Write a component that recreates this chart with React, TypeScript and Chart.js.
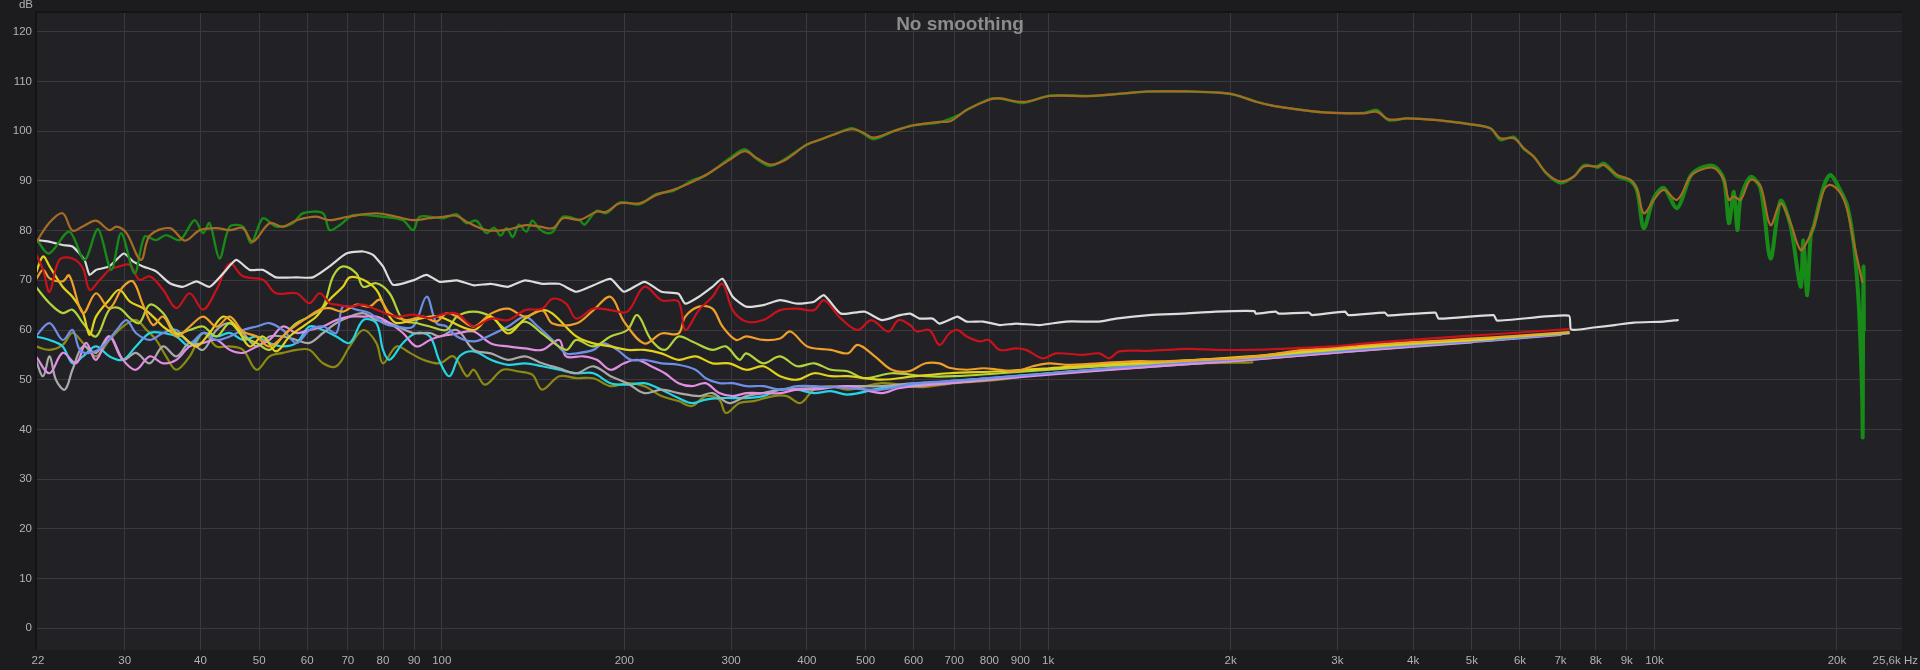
import React, { useEffect, useRef } from "react";
import { Chart, registerables } from "chart.js";

Chart.register(...registerables);

type P = [number, number];

const TITLE = "No smoothing";
const X_MIN = 21.5;
const X_MAX = 25600;
const Y_MIN = -4.4;
const Y_MAX = 123.8;
const X_TICKS = [30, 40, 50, 60, 70, 80, 90, 100, 200, 300, 400, 500, 600, 700, 800, 900, 1000, 2000, 3000, 4000, 5000, 6000, 7000, 8000, 9000, 10000, 20000];
const X_TICK_LABELS = ["30", "40", "50", "60", "70", "80", "90", "100", "200", "300", "400", "500", "600", "700", "800", "900", "1k", "2k", "3k", "4k", "5k", "6k", "7k", "8k", "9k", "10k", "20k"];
const X_EDGE_LABELS = ["22", "25,6k Hz"];
const Y_TICKS = [0, 10, 20, 30, 40, 50, 60, 70, 80, 90, 100, 110, 120];
const Y_UNIT = "dB";

const BROWN: P[] = [[21.4,77.5],[22.5,81.5],[23.7,83.5],[24.6,80],[25.7,81],[26.9,82],[28.3,80.1],[29.1,80.8],[30.2,79.5],[31.9,74.1],[33.0,79],[35.6,80.5],[37.7,78],[39.9,80.1],[42.5,80.5],[44.7,80.1],[47,80.5],[48.8,77.8],[52,81.5],[54.7,80.8],[57.6,82.1],[62.1,82.8],[65.3,82.1],[70,82.8],[78,83.5],[84.2,82.8],[89.7,82.1],[95.5,82.5],[100.5,82.8],[105.7,83],[109.8,81.8],[118.5,80.1],[127.9,80.2],[137.9,81.1],[145,80.8],[152.6,80.5],[158.6,82.5],[169,82.2],[180,83.8],[186.9,83.8],[196.7,85.5],[212,85.5],[226,87.2],[240.8,88.2],[259.8,89.9],[273.4,91.3],[298.7,94.3],[316,96],[330.6,94.6],[347.8,93.3],[365.8,94],[400,97.3],[420.6,98.3],[442.4,99.3],[474.5,100.4],[495.9,99.7],[515,98.7],[555.7,100],[600,101.2],[663,101.9],[689,102],[734,104.3],[802,106.4],[833,106.6],[910,105.9],[1008,107.1],[1173,107.1],[1331,107.6],[1455,108],[1715,108],[1898,107.8],[2022,107.4],[2210,105.9],[2353,105.1],[2507,104.6],[2847,103.8],[3313,103.6],[3486,103.9],[3643,102.4],[3907,102.6],[4324,102.3],[4786,101.7],[4909,101.5],[5362,100.6],[5570,98.6],[5861,98.6],[6086,96.6],[6321,94.9],[6651,91.5],[6999,89.9],[7364,90.9],[7648,92.9],[8047,92.9],[8253,93.2],[8677,91.2],[9129,90.2],[9364,88.2],[9603,83.5],[9975,86.2],[10361,88.2],[10899,86.2],[11465,90.9],[11910,92.2],[12530,92.6],[13015,90.2],[13266,86.2],[13519,86.9],[13866,86.2],[14403,90.2],[14961,88.9],[15540,81.1],[16143,85.5],[16766,81.5],[17415,76.1],[17862,77.8],[18321,80.9],[19030,88.2],[19518,89.2],[20276,87.5],[20795,84.2],[21330,77.4],[22018,69.7]];

const GREEN: P[] = [[21.4,78.5],[22.5,75.4],[24.3,79.8],[25.75,74.1],[27.1,80.3],[28.5,72.1],[29.6,79.5],[31.15,71.4],[32.35,78.8],[33.8,78.1],[35.1,79.1],[37,78.1],[39.1,82.1],[40.4,79.5],[41.4,81.5],[43,74.4],[44.7,80.8],[47,80.8],[48.5,77.5],[50.7,82.5],[53.3,80.8],[56.8,81.5],[59,83.5],[63.7,83.5],[65.3,80.1],[67.85,81.1],[71.4,83.1],[80,82.8],[86.3,82.1],[89.7,80.1],[92,82.8],[100.5,82.5],[105.7,83.3],[109.8,81.5],[114,82],[118.5,79.5],[122,80.6],[125,79],[127.9,80.5],[131,78.7],[134,81.2],[137.9,79.8],[141,82],[145,80.3],[149,79.5],[152.6,79.8],[158.6,82.8],[169,82],[172,81.2],[180,84],[186.9,83.5],[196.7,85.7],[212,85.3],[226,87.4],[240.8,88],[259.8,90.2],[273.4,91.2],[298.7,94.6],[316,96.4],[330.6,94.4],[347.8,93],[365.8,94.2],[400,97.3],[420.6,98.3],[442.4,99.3],[474.5,100.6],[495.9,99.5],[515,98.4],[555.7,100],[600,101.2],[663,101.8],[716,103.4],[734,104.3],[802,106.5],[833,106.6],[910,105.7],[1008,107.2],[1173,107.1],[1331,107.6],[1455,108],[1715,108],[1898,107.8],[2022,107.4],[2210,105.9],[2353,105.1],[2507,104.6],[2847,103.8],[3313,103.7],[3486,104.3],[3643,102.2],[3907,102.6],[4324,102.3],[4786,101.7],[4909,101.5],[5362,100.6],[5570,98.2],[5861,98.9],[6086,96.4],[6321,94.9],[6651,91.3],[6999,89.5],[7364,90.9],[7648,93.2],[8047,92.8],[8253,93.5],[8677,91],[9129,90],[9364,88],[9603,80.5],[9975,86.6],[10361,88.6],[10899,84.5],[11465,91],[11910,92.6],[12530,93],[13015,90.3],[13266,81.5],[13519,87.8],[13700,80.1],[13866,86.4],[14403,90.8],[14961,88.5],[15540,74.4],[16143,86],[16766,81],[17415,68.7],[17600,78],[17862,67],[18100,79],[18321,81],[19030,89],[19518,91.2],[20276,88],[20795,85],[21330,77],[21700,66],[21900,55],[22018,45],[22050,38.5],[22080,60],[22120,72.8],[22150,60]];

const WHITE: P[] = [[21.4,78.1],[22.5,77.8],[23.7,77.1],[24.6,76.8],[25.75,74.1],[26.25,71.1],[26.9,72.1],[28.3,72.8],[29.9,75.4],[30.95,73.8],[32.15,72.8],[33.8,71.8],[35.6,69.4],[37.4,68.7],[39.4,69.8],[41.4,68.7],[43.6,71.4],[45.8,74.1],[48.2,72.1],[50.7,72.1],[53.3,70.6],[57.6,70.6],[61.3,70.6],[65.3,72.8],[69.6,75.4],[74.2,75.8],[77,75.1],[80,72.8],[83.1,69.1],[89.7,70],[94.4,71.1],[99.2,69.7],[105.9,70],[112.9,69],[120.5,69.3],[128.6,68.7],[137.2,70],[146.4,69.3],[156.2,69.3],[166.7,67.7],[177.9,69],[189.8,70.3],[199.8,67.7],[215.9,69.7],[230.3,67.7],[245.7,67.3],[252.1,65.3],[265.5,66.7],[279.5,68.7],[290.4,70.3],[301.8,66.7],[317.8,64.7],[339,65],[361.4,66],[385.6,65.3],[411.2,65.7],[427.1,67],[455.3,63.3],[498.1,63.7],[531.3,62],[570,63],[592,63.3],[614,62.3],[645,62.3],[662,61.3],[695,62.3],[709,62.7],[734,61.7],[782,61.7],[832,61],[886,61.3],[967,61],[1070,61.7],[1214,61.7],[1293,62.3],[1467,63],[1665,63.3],[1890,63.7],[2190,63.8],[2200,63.3],[2372,63.7],[2402,63.3],[2691,63.5],[2725,63],[3088,63.7],[3127,63],[3589,63.5],[3635,62.9],[4352,63.5],[4406,62.3],[5430,63],[5500,61.9],[7222,62.9],[7290,60.1],[7941,60.5],[8600,61],[9245,61.5],[10361,61.7],[10926,62]];

const RED: P[] = [[21.4,75.4],[22,72.1],[22.55,67.7],[23.4,74.1],[24.6,74.4],[25.6,72.4],[26.25,68.1],[27.3,70.1],[28.3,72.1],[29.4,72.8],[30.6,73.1],[31.7,70.1],[33,70.8],[34.7,68.1],[36.5,64.4],[38.4,67.4],[40.4,64.1],[42.5,68.1],[44.7,73.4],[47,70.8],[50.7,70.1],[53.3,67.4],[57.6,67.4],[60.5,65.4],[62.9,67.4],[65.3,65.4],[67,65.1],[70.5,64.7],[74.2,65.1],[78,64.1],[84.2,62.7],[89.7,63.1],[95.6,62.4],[100.5,63.2],[105.9,63.3],[112.9,60.7],[120.5,62.3],[128.6,62],[137.2,64],[146.4,64.3],[152.3,66.3],[160.3,65.3],[166.7,62.3],[177.9,64.3],[189.8,64],[202.3,63.7],[215.9,68.7],[230.3,66],[245.7,65.7],[252.1,60],[265.5,64],[279.5,66.7],[290.4,69.3],[301.8,64],[317.8,61.7],[339,62],[361.4,64],[385.6,64.3],[411.2,64],[427.1,66],[455.3,62.3],[485.4,60],[511.2,62],[545.2,59.7],[566.7,62],[592,61],[607,59.7],[637,60],[662,57],[687,59.3],[709,60],[734,58.7],[772,57.7],[798,58],[832,56],[886,56.3],[920,56],[979,54.3],[1030,55.3],[1140,55],[1214,55.3],[1261,54.3],[1310,55.7],[1467,55.8],[1707,56.2],[1890,56],[2145,56],[2434,56.2],[2593,56.4],[2937,56.7],[3331,57.3],[3778,57.8],[4070,58.1],[4909,58.8],[6000,59.5],[7222,60.2]];

const ORANGE: P[] = [[21.4,70.1],[22,72.1],[22.55,70.4],[23.7,69.8],[24.3,71],[25.6,63.4],[26.9,67.4],[28.3,64.4],[29.8,68.7],[30.95,69.8],[32.15,65.1],[33.4,61],[34.7,62.7],[36.5,58.7],[38.4,60.7],[40.4,62.7],[42.5,60.7],[44.7,62.7],[47,59.7],[49.5,58.7],[52,56.7],[56.1,60],[59.8,62.4],[62.9,64.1],[65.3,64.4],[68.7,63.7],[72.3,65.1],[76,64.7],[79,66.1],[82,63.4],[87.4,62],[93.2,62.7],[98,61.7],[101.8,63.4],[105.9,62.7],[112.9,60.7],[120.5,63.3],[128.6,64.3],[137.2,62.7],[146.4,64],[152.3,61.3],[166.7,61.3],[177.9,64],[189.8,66.7],[199.8,61.7],[215.9,57.3],[230.3,59.3],[245.7,59.3],[252.1,62.7],[265.5,64.7],[279.5,64.3],[290.4,60.7],[305.7,58],[317.8,58.7],[339,58],[361.4,58.3],[375.7,59.7],[400.7,56.7],[438.3,56],[467.2,55.3],[485.4,57],[517.8,54.7],[552.2,52],[588.8,51.7],[627.7,53.3],[662,53.3],[687,52.4],[734,52],[782,52.3],[832,52],[886,51.7],[943,52.7],[1004,53.3],[1070,53],[1214,53.3],[1377,53.7],[1563,53.7],[1774,54],[2013,54.3],[2285,54.9],[2593,55.9],[2937,56.4],[3331,57],[3778,57.4],[4070,57.6],[4909,58.2],[6000,58.9],[7222,59.6]];

const YELLOW: P[] = [[21.4,71.4],[22,74.8],[22.55,72.8],[23.7,68.7],[24.6,66.7],[25.6,63.4],[26.25,59],[26.9,62.7],[28.3,66.1],[29.4,68.1],[30.6,65.7],[32.15,64.4],[33.4,62.7],[34.7,60.7],[36,59.4],[37.4,58.7],[39.4,56.7],[41.4,59.4],[43.6,62.7],[45.8,60.7],[48.2,56.7],[50.7,58.7],[53.3,55.7],[56.1,58.7],[59,60.7],[62.1,62.7],[65.3,66.1],[68.7,68.7],[70.5,70.6],[74.2,70.1],[78,68.1],[80,65.4],[82,62.7],[84.2,61.4],[89.7,62],[95.6,62.7],[99.2,62.7],[112.9,60],[120.5,62.7],[128.6,59.3],[137.2,62.3],[146.4,64],[152.3,63.3],[166.7,58.7],[177.9,57.3],[189.8,56.7],[202.3,56],[215.9,56],[230.3,55.3],[245.7,54],[262.1,54.7],[279.5,53.3],[298,53.3],[317.8,52],[339,52.7],[361.4,50.7],[385.6,50],[411.2,51.3],[438.3,50.7],[467.2,50.7],[531.3,50],[604.2,50.7],[687,51.3],[832,51.7],[1004,52.3],[1214,53],[1467,53.5],[1774,54],[2145,54.7],[2593,55.6],[3088,56.3],[3778,57.2],[4324,57.6],[5430,58.2]];

const YELLOWGREEN: P[] = [[21.4,68.7],[22.55,65.4],[23.7,63.4],[24.6,64.1],[25.6,61.4],[26.9,58.7],[28.3,64.1],[29.4,64.4],[30.6,62.4],[31.7,61.4],[33,65.1],[34.7,63.4],[36.5,59.4],[38.4,60],[40.4,60.7],[42.5,58.7],[44.7,61.4],[47,58.7],[49.5,57.4],[52,56],[54.7,58.7],[57.6,61.4],[60.5,62.7],[63.7,64.7],[66.2,70.8],[68.7,72.8],[72.3,71.4],[74.2,68.7],[78,69.4],[82,67.4],[86.3,62],[90.8,61.4],[95.6,60.7],[101.8,60],[105.9,62.7],[112.9,63.7],[120.5,62.7],[128.6,60],[137.2,61.7],[146.4,59.3],[160.3,56],[166.7,58],[177.9,56.7],[189.8,58.7],[202.3,60],[210.1,63],[221.5,58],[233.3,56],[245.7,58.7],[258.7,57.7],[279.5,56],[294.2,56.7],[309.7,54],[317.8,55.3],[339,53.3],[361.4,54.7],[385.6,52.7],[411.2,53.3],[438.3,52],[467.2,51.7],[498.1,50.3],[552.2,51.3],[627.7,50.7],[700,50.7],[832,51.3],[1004,52],[1214,52.7],[1467,53.3],[1774,54],[2145,54.5],[2593,55.4],[3088,56.2],[3778,57],[4909,57.9],[6000,58.7],[7222,59.4]];

const OLIVE: P[] = [[21.4,56.7],[22.55,56],[23.7,57],[24.6,59.4],[25.6,57.4],[26.9,54.7],[28.3,58],[29.8,60.7],[31.3,62],[32.6,60],[33.8,58],[35.1,54.7],[36.5,52],[38.4,54.7],[40.4,59.4],[42.5,56.7],[44.7,56.7],[47,56],[49.5,52],[52,54.7],[54.7,55.4],[57.6,56],[60.5,56],[63.7,53.3],[67,52.7],[70.5,56.7],[74.2,60],[78,57.4],[80,53.3],[84.2,56.7],[88.6,55.4],[93.2,54],[99.2,53.3],[104.5,54.7],[110,50.7],[112.9,52],[117.8,49],[126,52],[133,51.7],[141,51],[146.4,48],[156.2,50.7],[166.7,50.3],[177.9,50.3],[189.8,48.7],[202.3,49.3],[215.9,48.7],[230.3,46.7],[245.7,45.7],[258.7,44.7],[272.4,46.7],[286.8,46],[294.2,43.3],[309.7,45.3],[327,45.7],[352.2,46.7],[370.9,46.7],[390.5,45.3],[411.2,48],[438.3,48.7],[467.2,48],[531.3,49.3],[570,49],[620,48.5],[700,49.3],[832,50],[1004,51.3],[1214,52],[1467,52.8],[1774,53.3],[2172,53.5]];

const BLUE: P[] = [[21.4,58.7],[22.55,61.4],[23.7,58],[24.6,60],[25.3,56],[26.25,55.4],[27.6,56.7],[29.1,60],[30.2,62],[31.3,59.4],[33,58],[34.7,59.4],[36.5,60],[38.4,57.4],[40.4,59.4],[42.5,58],[44.7,58.7],[47,60],[49.5,60.7],[52,61.4],[54.7,60],[57.6,57.4],[60.5,60],[63.7,60.7],[67,59.4],[68.7,64.7],[72.3,64.1],[76.1,63.4],[80,61.4],[84.2,60.7],[89.7,60.7],[94.4,66.7],[98,61.4],[101.8,60.7],[105.9,58.7],[112.9,57.7],[120.5,59],[128.6,60.7],[137.2,62.7],[144,60.7],[152.3,58],[160.3,55.3],[166.7,55.3],[177.9,56],[184.8,57.3],[194.7,56],[205,54],[215.9,54],[230.3,53.3],[245.7,53],[262.1,52],[272.4,50.3],[286.8,49.3],[301.8,49.3],[317.8,48.7],[339,48.7],[361.4,48],[385.6,48.7],[411.2,48.7],[467.2,48.3],[531.3,48],[604.2,49.3],[687,49.7],[800,50.3],[1004,51.3],[1467,53],[2145,54.3],[3088,55.9],[4070,57],[5430,58],[7222,59.3]];

const PINK: P[] = [[21.4,54.7],[22.55,51.3],[23.7,55.4],[24.95,53.3],[25.9,57.4],[26.9,54],[28.3,58.7],[29.8,54],[31.3,52],[33,54.7],[34.7,53.3],[36.5,54],[38.4,56.7],[40.4,57.4],[42.5,58],[44.7,56],[47,55.4],[49.5,56.7],[52,58],[54.7,60.7],[57.6,59.4],[60.5,60],[63.7,60.7],[67,62],[70.5,62.7],[74.2,62.7],[78,62.7],[82,61.4],[86.3,59.4],[90.8,56.7],[95.6,58],[99.2,58.7],[105.9,59.3],[112.9,59.7],[120.5,57.3],[128.6,56.7],[137.2,56.3],[146.4,56],[156.2,58],[160.3,54.7],[171.1,54.7],[180.2,54],[189.8,52],[199.8,53.3],[210.1,54],[221.5,52.7],[233.3,51.3],[245.7,49.3],[258.7,48.7],[272.4,49.3],[286.8,47.3],[301.8,46.7],[317.8,47.3],[339,47.3],[361.4,47.3],[385.6,48],[411.2,48],[467.2,48.7],[531.3,47.3],[566.7,48.3],[604.2,48.7],[687,49.3],[800,50],[1004,51],[1467,52.6],[2145,54],[3088,55.6],[4070,56.8],[5430,57.9],[7000,59]];

const CYAN: P[] = [[21.4,58.7],[22.55,58],[23.7,56.7],[24.6,53.3],[25.6,54.7],[26.9,56.7],[28.3,54.7],[29.8,54],[31.3,56.7],[33,59.4],[34.7,59.4],[36.5,58.7],[38.4,56.7],[40.4,59.4],[42.5,58.7],[44.7,59.4],[47,58],[49.5,58.7],[52,57.4],[54.7,56.7],[57.6,57.4],[60.5,60.7],[63.7,60],[67,58.7],[70.5,57.4],[74.2,62],[78,61.4],[80,56],[82,54],[86.3,57.4],[90.8,59.4],[95.6,58.7],[99.2,53.7],[103,50.7],[107,54.7],[112.9,55.7],[120.5,54],[128.6,53],[137.2,53.3],[146.4,52.7],[156.2,52],[166.7,51.3],[177.9,51.3],[189.8,49.3],[202.3,49],[215.9,49.3],[230.3,48],[245.7,46.3],[258.7,45.3],[272.4,46],[286.8,46.3],[301.8,46.3],[317.8,46.3],[339,46.7],[361.4,48],[385.6,48],[411.2,47.3],[438.3,47.7],[467.2,47],[531.3,48.3],[604.2,49],[687,49.7],[800,50.3],[1004,51.3],[1467,52.8],[2145,54.2],[3088,55.8],[4070,56.9],[5430,58],[6500,58.8]];

const SILVER: P[] = [[21.4,54],[22,50.7],[22.55,54.7],[23.1,50],[23.9,48],[24.6,52],[25.6,56.7],[26.9,55.4],[28.3,58.7],[29.8,54],[31.3,55.4],[33,53.3],[34.7,56.7],[36.5,54.7],[38.4,57.4],[40.4,56],[42.5,60],[44.7,61.4],[47,59.4],[49.5,56.7],[52,58.7],[54.7,58.7],[57.6,58],[60.5,57.4],[63.7,59.4],[67,61.4],[70.5,62.7],[74.2,63.4],[78,62],[82,61.4],[89.7,59.4],[95.6,59.4],[99.2,58.7],[105.9,60],[112.9,56],[120.5,55.3],[128.6,54],[137.2,54.7],[146.4,53.3],[156.2,52.3],[166.7,51.3],[177.9,52.7],[189.8,50.7],[202.3,49.3],[215.9,47.3],[230.3,48],[245.7,47.3],[265.5,46.7],[279.5,47.3],[298,45.3],[317.8,46.7],[339,47.3],[361.4,48],[411.2,48.3],[467.2,48.7],[531.3,48.7],[604.2,49.3],[687,49.3],[800,50],[1004,51.2],[1467,52.6],[2145,54],[3088,55.6],[4070,56.7],[5000,57.5]];

const SERIES: { data: P[]; color: string; width: number; tension: number }[] = [
  { data: BROWN, color: "#a86b24", width: 2.2, tension: 0.35 },
  { data: GREEN, color: "#178a17", width: 2.4, tension: 0.3 },
  { data: WHITE, color: "#dcdcdc", width: 2.2, tension: 0.2 },
  { data: RED, color: "#c8121c", width: 2.2, tension: 0.35 },
  { data: ORANGE, color: "#eea028", width: 2.2, tension: 0.35 },
  { data: YELLOW, color: "#e2d21a", width: 2.2, tension: 0.35 },
  { data: YELLOWGREEN, color: "#b2d43a", width: 2.2, tension: 0.35 },
  { data: BLUE, color: "#6f8fe6", width: 2.2, tension: 0.35 },
  { data: PINK, color: "#e18ee3", width: 2.2, tension: 0.35 },
  { data: SILVER, color: "#a9a9a9", width: 2.2, tension: 0.35 },
  { data: CYAN, color: "#24d6e4", width: 2.2, tension: 0.35 },
  { data: OLIVE, color: "#8c8a12", width: 2.2, tension: 0.35 },
];

const GREEN_WIDE_FROM = 8000;
const W = 1920;
const H = 670;
const LABEL_FONT = "11.5px 'Liberation Sans', Arial, sans-serif";
const LABEL_COLOR = "#b2b2b2";

const decor = {
  id: "decor",
  beforeDraw(chart: any) {
    const { ctx, chartArea: a } = chart;
    ctx.save();
    ctx.fillStyle = "#1c1c1e";
    ctx.fillRect(0, 0, chart.width, chart.height);
    ctx.fillStyle = "#222125";
    ctx.fillRect(a.left, a.top, a.right - a.left, a.bottom - a.top);
    ctx.restore();
  },
  beforeDatasetsDraw(chart: any) {
    const { ctx } = chart;
    ctx.save();
    ctx.fillStyle = "#8c8c8c";
    ctx.font = "bold 19px 'Liberation Sans', Arial, sans-serif";
    ctx.textAlign = "center";
    ctx.textBaseline = "middle";
    ctx.fillText(TITLE, 960, 25);
    ctx.restore();
  },
  afterDraw(chart: any) {
    const { ctx, chartArea: a, scales } = chart;
    const xs = scales.x;
    const ys = scales.y;
    ctx.save();
    ctx.strokeStyle = "#141416";
    ctx.lineWidth = 2;
    ctx.beginPath();
    ctx.moveTo(a.left - 1, a.bottom);
    ctx.lineTo(a.left - 1, a.top - 1);
    ctx.lineTo(a.right, a.top - 1);
    ctx.stroke();
    ctx.fillStyle = LABEL_COLOR;
    ctx.font = LABEL_FONT;
    ctx.textBaseline = "middle";
    ctx.textAlign = "center";
    const ly = a.bottom + 11;
    X_TICKS.forEach((v, i) => {
      ctx.fillText(X_TICK_LABELS[i], xs.getPixelForValue(v), ly);
    });
    ctx.fillText(X_EDGE_LABELS[0], xs.getPixelForValue(X_MIN) + 1, ly);
    ctx.textAlign = "right";
    ctx.fillText(X_EDGE_LABELS[1], W - 2, ly);
    Y_TICKS.forEach((v) => {
      ctx.fillText(String(v), a.left - 5, ys.getPixelForValue(v));
    });
    ctx.fillText(Y_UNIT, a.left - 4, 5);
    ctx.restore();
  },
};

export default function App() {
  const ref = useRef<HTMLCanvasElement | null>(null);
  useEffect(() => {
    document.body.style.margin = "0";
    document.body.style.background = "#1c1c1e";
    const canvas = ref.current;
    if (!canvas) return;
    const chart = new Chart(canvas, {
      type: "line",
      data: {
        datasets: SERIES.map((s) => ({
          data: s.data.map(([x, y]) => ({ x, y })),
          borderColor: s.color,
          backgroundColor: s.color,
          borderWidth: s.width,
          pointRadius: 0,
          tension: s.tension,
          fill: false,
          borderJoinStyle: "round" as const,
          borderCapStyle: "round" as const,
          segment:
            s.data === GREEN
              ? { borderWidth: (c: any) => (c.p0.parsed.x > GREEN_WIDE_FROM ? 4 : 2.4) }
              : undefined,
        })),
      },
      options: {
        animation: false,
        responsive: false,
        devicePixelRatio: 1,
        layout: { padding: { left: 37, right: 18, top: 13, bottom: 20 } },
        plugins: { legend: { display: false }, tooltip: { enabled: false }, title: { display: false } },
        scales: {
          x: {
            type: "logarithmic",
            min: X_MIN,
            max: X_MAX,
            afterBuildTicks: (s: any) => {
              s.ticks = X_TICKS.map((v) => ({ value: v }));
            },
            ticks: { display: false },
            grid: { color: "#3a393e", lineWidth: 1, drawTicks: false },
            border: { display: false },
          },
          y: {
            type: "linear",
            min: Y_MIN,
            max: Y_MAX,
            afterBuildTicks: (s: any) => {
              s.ticks = Y_TICKS.map((v) => ({ value: v }));
            },
            ticks: { display: false },
            grid: { color: "#3a393e", lineWidth: 1, drawTicks: false },
            border: { display: false },
          },
        },
      },
      plugins: [decor],
    });
    return () => chart.destroy();
  }, []);
  return (
    <div style={{ width: W, height: H, background: "#1c1c1e", overflow: "hidden" }}>
      <canvas ref={ref} width={W} height={H} style={{ display: "block", width: W, height: H }} />
    </div>
  );
}
